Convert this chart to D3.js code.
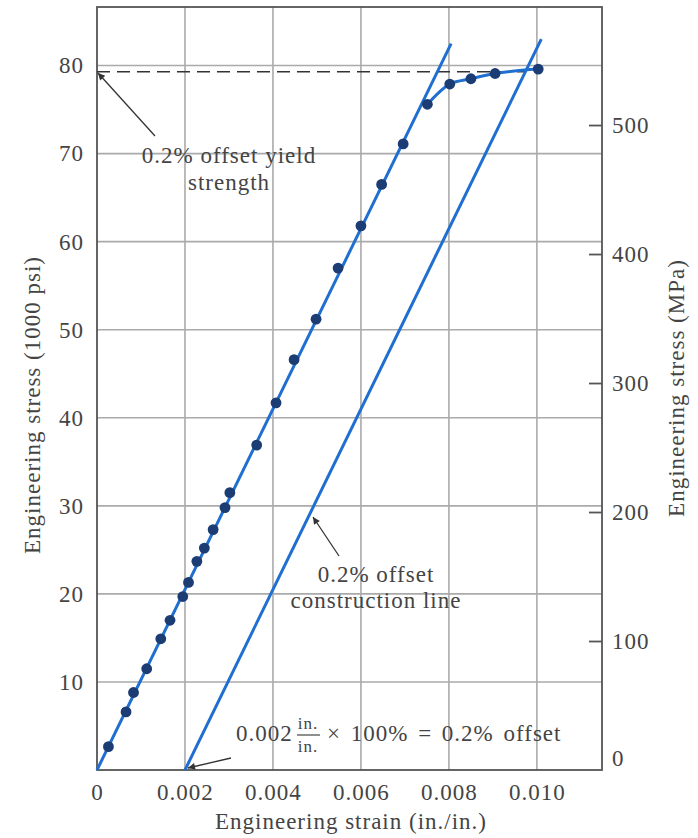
<!DOCTYPE html>
<html><head><meta charset="utf-8">
<script src="https://cdn.jsdelivr.net/npm/d3@7"></script>
<style>
html,body{margin:0;padding:0;background:#fff;}
svg text{font-family:"Liberation Serif","Times New Roman",serif;fill:#444;letter-spacing:1px;}
</style></head>
<body><svg id="c" width="698" height="838"></svg>
<script>
// ---- data ----
const strain = [0.00026,0.00066,0.00083,0.00113,0.00145,0.00166,0.00195,0.00208,0.00227,0.00244,0.00264,0.00291,0.00302,0.00363,0.00407,0.00448,0.00498,0.00548,0.00600,0.00647,0.00696,0.00751,0.00802,0.00850,0.00905,0.01003];
const stress = [2.65,6.6,8.8,11.5,14.9,17.0,19.7,21.3,23.7,25.2,27.3,29.8,31.5,36.9,41.7,46.6,51.2,57.0,61.8,66.5,71.1,75.6,77.9,78.5,79.1,79.6];
const curveStart = 21; // points joined by the plastic curve
const elasticStrain = [0, 0.00805];
const elasticStress = [0, 82.5];
const offsetStrain = [0.002, 0.0101];
const offsetStress = [0, 83.0];
const yieldStress = 79.3;
const yieldStrain = 0.00972;
const xTicks = [0,0.002,0.004,0.006,0.008,0.010];
const xTickLabels = ["0","0.002","0.004","0.006","0.008","0.010"];
const yTicks = [10,20,30,40,50,60,70,80];
const mpaTicks = [0,100,200,300,400,500];

// ---- layout ----
const L=97, R=602, T=7, B=770;
const svg = d3.select("#c");
const x = d3.scaleLinear().domain([0,0.01148]).range([L,R]);
const y = d3.scaleLinear().domain([0,86.65]).range([B,T]);
const yM = d3.scaleLinear().domain([0,591.5]).range([B,T]);

const grid = svg.append("g").attr("stroke","#aaa").attr("stroke-width",1.6);
xTicks.filter(d=>d>0).forEach(d=>grid.append("line").attr("x1",x(d)).attr("x2",x(d)).attr("y1",T).attr("y2",B));
yTicks.forEach(d=>grid.append("line").attr("x1",L).attr("x2",R).attr("y1",y(d)).attr("y2",y(d)));

// frame
svg.append("rect").attr("x",L).attr("y",T).attr("width",R-L).attr("height",B-T)
  .attr("fill","none").attr("stroke","#555").attr("stroke-width",1.8);

// axes labels
const gx = svg.append("g").attr("transform",`translate(0,${B})`)
  .call(d3.axisBottom(x).tickValues(xTicks).tickFormat((d,i)=>xTickLabels[i]).tickSize(0).tickPadding(14));
gx.select(".domain").remove();
gx.selectAll("text").attr("font-size",23).attr("fill","#444").attr("font-family","Liberation Serif");

const gy = svg.append("g").attr("transform",`translate(${L},0)`)
  .call(d3.axisLeft(y).tickValues(yTicks).tickFormat(d3.format("d")).tickSize(0).tickPadding(13));
gy.select(".domain").remove();
gy.selectAll("text").attr("font-size",23).attr("fill","#444").attr("font-family","Liberation Serif");

const gr = svg.append("g").attr("transform",`translate(${R},0)`)
  .call(d3.axisRight(yM).tickValues(mpaTicks).tickFormat(d3.format("d")).tickSize(0).tickPadding(10));
gr.select(".domain").remove();
gr.selectAll("text").attr("font-size",23).attr("fill","#444").attr("font-family","Liberation Serif")
  .attr("dy",d=>d===0?"-0.2em":"0.32em");
gr.selectAll(".tick").filter(d=>d>0).append("line").attr("x1",-13).attr("x2",0).attr("stroke","#555").attr("stroke-width",1.8);

// axis titles
svg.append("text").attr("x",351).attr("y",829).attr("text-anchor","middle").attr("font-size",23)
  .text("Engineering strain (in./in.)");
svg.append("text").attr("transform","translate(40,405) rotate(-90)").attr("text-anchor","middle").attr("font-size",23)
  .text("Engineering stress (1000 psi)");
svg.append("text").attr("transform","translate(684,388) rotate(-90)").attr("text-anchor","middle").attr("font-size",23)
  .text("Engineering stress (MPa)");

// dashed yield line
svg.append("line").attr("x1",x(0)).attr("x2",x(yieldStrain)).attr("y1",y(yieldStress)).attr("y2",y(yieldStress))
  .attr("stroke","#333").attr("stroke-width",1.6).attr("stroke-dasharray","13,7");

const blue = "#1f6fd0";
const line = d3.line().x(d=>x(d[0])).y(d=>y(d[1]));
svg.append("path").datum(elasticStrain.map((s,i)=>[s,elasticStress[i]])).attr("d",line)
  .attr("fill","none").attr("stroke",blue).attr("stroke-width",3);
svg.append("path").datum(offsetStrain.map((s,i)=>[s,offsetStress[i]])).attr("d",line)
  .attr("fill","none").attr("stroke",blue).attr("stroke-width",3);
const plastic = strain.map((s,i)=>[s,stress[i]]).slice(curveStart);
svg.append("path").datum(plastic).attr("d",line.curve(d3.curveMonotoneX))
  .attr("fill","none").attr("stroke",blue).attr("stroke-width",3);

svg.append("g").selectAll("circle").data(strain.map((s,i)=>[s,stress[i]])).join("circle")
  .attr("cx",d=>x(d[0])).attr("cy",d=>y(d[1])).attr("r",5.4).attr("fill","#1c3c74");

// arrows
const defs = svg.append("defs");
defs.append("marker").attr("id","ah").attr("viewBox","0 0 10 10").attr("refX",10).attr("refY",5)
  .attr("markerWidth",9).attr("markerHeight",7).attr("markerUnits","userSpaceOnUse").attr("orient","auto")
  .append("path").attr("d","M0,0L10,5L0,10z").attr("fill","#333");
function arrow(x1,y1,x2,y2){
  svg.append("line").attr("x1",x1).attr("y1",y1).attr("x2",x2).attr("y2",y2)
    .attr("stroke","#333").attr("stroke-width",1.3).attr("marker-end","url(#ah)");
}
arrow(155,136,98,73);
arrow(339,556,313,517);
arrow(231,758,188,768);

// annotation text
const t1 = svg.append("text").attr("font-size",23).attr("text-anchor","middle");
t1.append("tspan").attr("x",229).attr("y",163).text("0.2% offset yield");
t1.append("tspan").attr("x",229).attr("y",190).text("strength");
const t2 = svg.append("text").attr("font-size",23).attr("text-anchor","middle");
t2.append("tspan").attr("x",376).attr("y",582).text("0.2% offset");
t2.append("tspan").attr("x",376).attr("y",608).text("construction line");

svg.append("text").attr("x",236).attr("y",741).attr("font-size",23).text("0.002");
svg.append("text").attr("x",308).attr("y",729).attr("font-size",17).attr("text-anchor","middle").text("in.");
svg.append("line").attr("x1",297).attr("x2",320).attr("y1",735).attr("y2",735).attr("stroke","#444").attr("stroke-width",1.2);
svg.append("text").attr("x",308).attr("y",752).attr("font-size",17).attr("text-anchor","middle").text("in.");
svg.append("text").attr("x",327).attr("y",741).attr("font-size",23).attr("word-spacing","3px").text("× 100% = 0.2% offset");
</script></body></html>
